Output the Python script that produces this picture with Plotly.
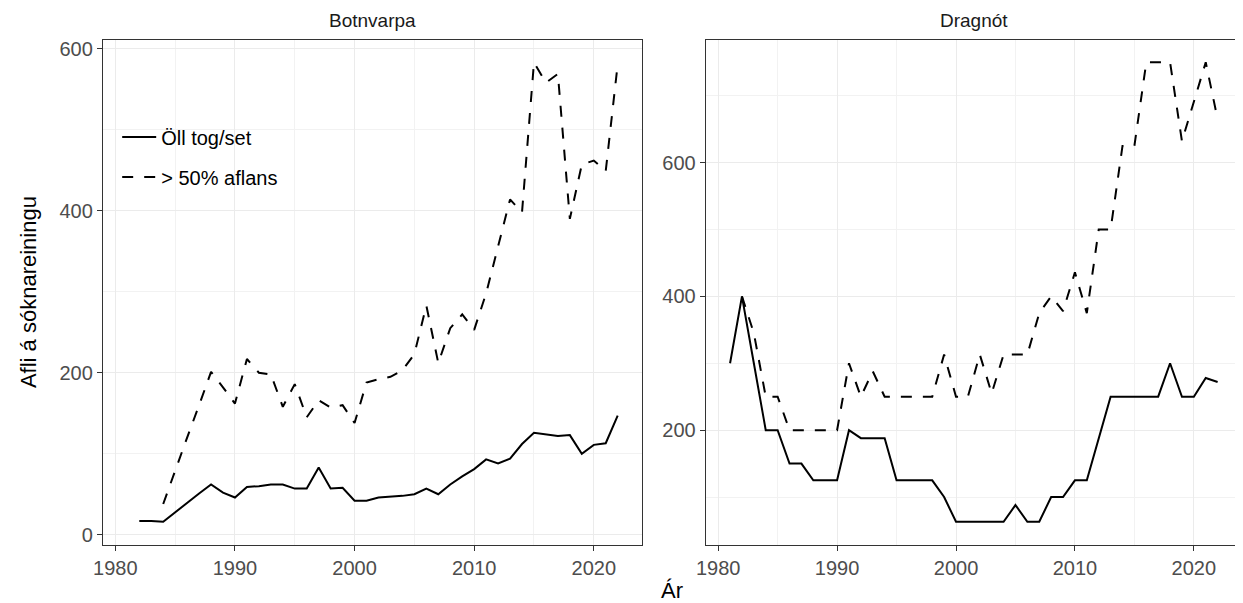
import plotly.graph_objects as go

# ---- data ----
botn_years_all = list(range(1982, 2023))
botn_all = [17, 17, 16, 28, 40, 51, 62, 52, 46, 59,
            60, 62, 62, 57, 57, 83, 57, 58, 42, 42,
            46, 47, 48, 50, 57, 50, 62, 72, 81, 93,
            88, 94, 112, 126, 124, 122, 123, 100, 111, 113,
            147]
botn_years_half = list(range(1984, 2023))
botn_half = [38, 80, 120, 160, 201, 182, 162, 217, 200, 198,
             158, 186, 145, 166, 157, 160, 138, 188, 192, 195,
             203, 223, 283, 212, 255, 272, 253, 298, 355, 414,
             398, 583, 558, 569, 390, 457, 462, 449, 581]

drag_years_all = list(range(1981, 2023))
drag_all = [300, 400, 300, 200, 200, 150, 150, 125, 125, 125,
            200, 188, 188, 188, 125, 125, 125, 125, 100, 63,
            63, 63, 63, 63, 88, 63, 63, 100, 100, 125,
            125, 188, 250, 250, 250, 250, 250, 300, 250, 250,
            278, 272]
drag_years_half = list(range(1982, 2023))
drag_half = [400, 345, 250, 250, 200, 200, 200, 200, 200, 300,
             250, 288, 250, 250, 250, 250, 250, 313, 250, 250,
             313, 255, 313, 313, 313, 375, 400, 378, 436, 375,
             500, 500, 625, 625, 750, 750, 750, 632, 690, 750,
             665]

panel_titles = ["Botnvarpa", "Dragnót"]
series_names = ["Öll tog/set", "> 50% aflans"]
y_title = "Afli á sóknareiningu"
x_title = "Ár"

# page has an 8px body margin; figure is drawn in a 1235x595 box offset by 8px
OFF = 8
W, H = 1243 - OFF, 603 - OFF
FONT = "Liberation Sans, Arial, Helvetica, sans-serif"
DASH = "11px,11px"


def px(xp):
    return (xp - OFF) / W


def py(yp):
    return 1 - (yp - OFF) / H


fig = go.Figure()
fig.add_trace(go.Scatter(x=botn_years_all, y=botn_all, mode="lines", name=series_names[0],
                         line=dict(color="black", width=2), xaxis="x", yaxis="y",
                         legendgroup="a"))
fig.add_trace(go.Scatter(x=botn_years_half, y=botn_half, mode="lines", name=series_names[1],
                         line=dict(color="black", width=2, dash=DASH), xaxis="x", yaxis="y",
                         legendgroup="b"))
fig.add_trace(go.Scatter(x=drag_years_all, y=drag_all, mode="lines", name=series_names[0],
                         line=dict(color="black", width=2), xaxis="x2", yaxis="y2",
                         legendgroup="a", showlegend=False))
fig.add_trace(go.Scatter(x=drag_years_half, y=drag_half, mode="lines", name=series_names[1],
                         line=dict(color="black", width=2, dash=DASH), xaxis="x2", yaxis="y2",
                         legendgroup="b", showlegend=False))

ydom = [py(545.5), py(37.7)]
x1dom = [px(93.5), px(637.3)]
x2dom = [px(701.3), px(1242.0)]

common = dict(showline=True, mirror=True, linecolor="#333333", linewidth=1,
              ticks="outside", ticklen=5, tickwidth=1.3, tickcolor="#333333",
              showgrid=True, gridcolor="#ebebeb", gridwidth=1.2,
              zeroline=False,
              tickfont=dict(family=FONT, size=20, color="#4d4d4d"))

xcommon = dict(common, range=[1978.95, 2024.05], tick0=1980, dtick=10,
               minor=dict(dtick=5, tick0=1980, showgrid=True, gridcolor="#f2f2f2", gridwidth=0.8, ticks=""))

fig.update_layout(
    width=W, height=H,
    margin=dict(l=0, r=0, t=0, b=0),
    paper_bgcolor="white", plot_bgcolor="white",
    font=dict(family=FONT, color="black"),
    xaxis=dict(xcommon, domain=x1dom, anchor="y"),
    xaxis2=dict(xcommon, domain=x2dom, anchor="y2"),
    yaxis=dict(common, domain=ydom, anchor="x", range=[-12.4, 611.4], tick0=0, dtick=200,
               minor=dict(dtick=100, tick0=0, showgrid=True, gridcolor="#f2f2f2", gridwidth=0.8, ticks="")),
    yaxis2=dict(common, domain=ydom, anchor="x2", range=[28.6, 784.0], tick0=0, dtick=200,
                minor=dict(dtick=100, tick0=0, showgrid=True, gridcolor="#f2f2f2", gridwidth=0.8, ticks="")),
    showlegend=True,
    legend=dict(x=px(108), y=py(116), xanchor="left", yanchor="top",
                bgcolor="rgba(0,0,0,0)", borderwidth=0,
                font=dict(family=FONT, size=20, color="black"),
                traceorder="grouped", tracegroupgap=11, itemwidth=34),
    annotations=[
        dict(text=panel_titles[0], x=(x1dom[0] + x1dom[1]) / 2, y=py(19), xref="paper", yref="paper",
             showarrow=False, font=dict(family=FONT, size=19, color="#1a1a1a"), xanchor="center", yanchor="middle"),
        dict(text=panel_titles[1], x=(x2dom[0] + x2dom[1]) / 2, y=py(19), xref="paper", yref="paper",
             showarrow=False, font=dict(family=FONT, size=19, color="#1a1a1a"), xanchor="center", yanchor="middle"),
        dict(text=y_title, x=px(18), y=(ydom[0] + ydom[1]) / 2, xref="paper", yref="paper", textangle=-90,
             showarrow=False, font=dict(family=FONT, size=22, color="black"), xanchor="center", yanchor="middle"),
        dict(text=x_title, x=(x1dom[0] + x2dom[1]) / 2, y=py(591), xref="paper", yref="paper",
             showarrow=False, font=dict(family=FONT, size=22, color="black"), xanchor="center", yanchor="middle"),
    ],
)

fig.write_html("out.html")
